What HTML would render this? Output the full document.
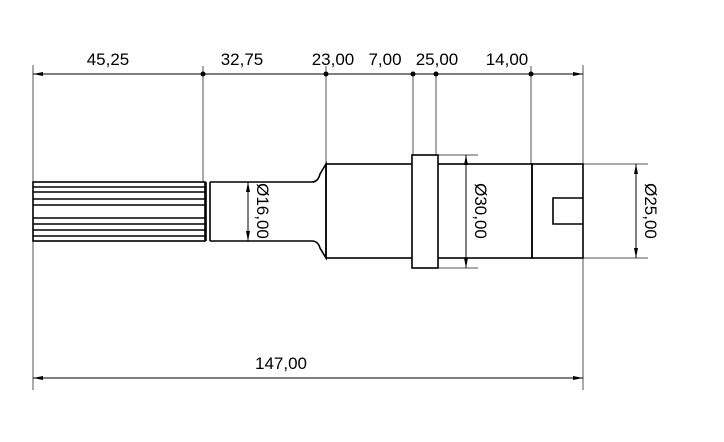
<!DOCTYPE html>
<html><head><style>html,body{margin:0;padding:0;background:#fff}svg{display:block}</style></head><body>
<svg width="724" height="442" viewBox="0 0 724 442" xmlns="http://www.w3.org/2000/svg" font-family="Liberation Sans, DejaVu Sans, sans-serif" font-size="17" fill="#000">
<g stroke="#555" stroke-width="1" fill="none">
<line x1="33" y1="65" x2="33" y2="390"/>
<line x1="583" y1="65" x2="583" y2="390"/>
<line x1="203" y1="66" x2="203" y2="182"/>
<line x1="326" y1="66" x2="326" y2="164"/>
<line x1="413" y1="74" x2="413" y2="155"/>
<line x1="436" y1="74" x2="436" y2="155"/>
<line x1="531" y1="66" x2="531" y2="164"/>
<line x1="438" y1="155" x2="478" y2="155"/>
<line x1="438" y1="268" x2="478" y2="268"/>
<line x1="583" y1="164" x2="648" y2="164"/>
<line x1="583" y1="258" x2="648" y2="258"/>
</g>
<g stroke="#000" stroke-width="1" fill="none">
<line x1="33" y1="74" x2="583" y2="74"/>
<line x1="33" y1="378" x2="583" y2="378"/>
<line x1="248" y1="182" x2="248" y2="241"/>
<line x1="466" y1="155" x2="466" y2="268"/>
<line x1="636" y1="164" x2="636" y2="258"/>
</g>
<g fill="#000">
<circle cx="203" cy="74" r="2.5"/><circle cx="326" cy="74" r="2.5"/><circle cx="413" cy="74" r="2.5"/><circle cx="436" cy="74" r="2.5"/><circle cx="531" cy="74" r="2.5"/>
<polygon points="33,74 43,72 43,76"/><polygon points="583,74 573,72 573,76"/>
<polygon points="33,378 43,376 43,380"/><polygon points="583,378 573,376 573,380"/>
<polygon points="248,182 246,192 250,192"/><polygon points="248,241 246,231 250,231"/>
<polygon points="466,155 464,165 468,165"/><polygon points="466,268 464,258 468,258"/>
<polygon points="636,164 634,174 638,174"/><polygon points="636,258 634,248 638,248"/>
</g>
<g stroke="#000" stroke-width="1.6" fill="none">
<rect x="33" y="182" width="172" height="59"/>
<line x1="33" y1="187" x2="205" y2="187"/>
<line x1="33" y1="192" x2="205" y2="192"/>
<line x1="33" y1="199" x2="205" y2="199"/>
<line x1="33" y1="205" x2="205" y2="205"/>
<line x1="33" y1="218" x2="205" y2="218"/>
<line x1="33" y1="224" x2="205" y2="224"/>
<line x1="33" y1="230" x2="205" y2="230"/>
<line x1="33" y1="236" x2="205" y2="236"/>
<line x1="206" y1="182" x2="206" y2="241"/>
<line x1="210" y1="182" x2="210" y2="241"/>
<path d="M210 182 H312 Q318 182 320 174 L326 164 V258 L320 248 Q318 241 312 241 H210"/>
<rect x="326" y="164" width="206" height="94"/>
<rect x="412" y="155" width="26" height="113" fill="#fff"/>
<rect x="532" y="164" width="51" height="94"/>
<path d="M583 198 H553 V224 H583"/>
</g>
<g text-anchor="middle">
<text x="108" y="65">45,25</text>
<text x="242" y="65">32,75</text>
<text x="333" y="65">23,00</text>
<text x="385" y="65">7,00</text>
<text x="437" y="65">25,00</text>
<text x="507" y="65">14,00</text>
<text x="281" y="369">147,00</text>
<text transform="translate(257,211) rotate(90)">Ø16,00</text>
<text transform="translate(475,211) rotate(90)">Ø30,00</text>
<text transform="translate(645,211) rotate(90)">Ø25,00</text>
</g>
</svg>
</body></html>
